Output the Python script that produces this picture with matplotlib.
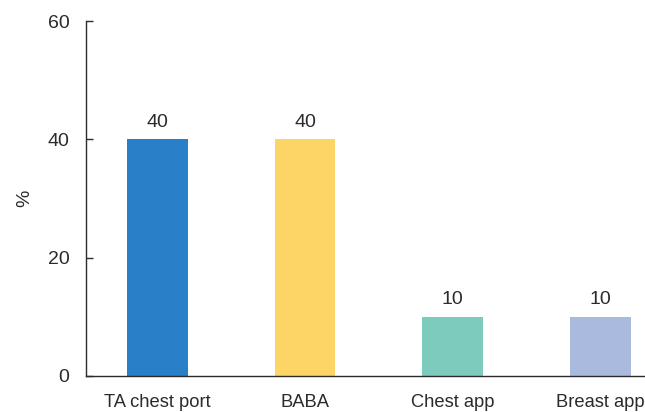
import matplotlib
matplotlib.use("Agg")
import matplotlib.pyplot as plt

categories = ["TA chest port", "BABA", "Chest app", "Breast app"]
values = [40, 40, 10, 10]
colors = ["#2780c8", "#fdd566", "#7ccbbd", "#aabadf"]
y_ticks = [0, 20, 40, 60]

TEXT = "#2b2b2b"

plt.rcParams["font.family"] = ["Liberation Sans", "DejaVu Sans"]

fig = plt.figure(figsize=(6.45, 4.12), dpi=100)
W, H = 645, 412
ax = fig.add_axes([86 / W, (H - 376) / H, (645 - 86) / W, (376 - 21) / H])

x = list(range(len(categories)))
bars = ax.bar(x, values, width=0.41, color=colors, zorder=2)

for b, v in zip(bars, values):
    ax.annotate(f"{v}", (b.get_x() + b.get_width() / 2, v),
                xytext=(0, 6), textcoords="offset points",
                ha="center", va="bottom", fontsize=14, color=TEXT)

ax.set_xlim(-0.483, 3.302)
ax.set_ylim(0, 60)
ax.set_yticks(y_ticks)
ax.set_xticks(x)
ax.set_xticklabels(categories)
ax.tick_params(axis="y", direction="in", length=5, width=1, colors=TEXT,
               labelsize=14, pad=12)
ax.tick_params(axis="x", length=0, labelsize=13.2, colors=TEXT, pad=13)
ax.set_ylabel("%", fontsize=14, color=TEXT, labelpad=10)

for side in ("top", "right"):
    ax.spines[side].set_visible(False)
for side in ("left", "bottom"):
    ax.spines[side].set_color(TEXT)
    ax.spines[side].set_linewidth(1.0)

fig.savefig("out.png", dpi=100)
